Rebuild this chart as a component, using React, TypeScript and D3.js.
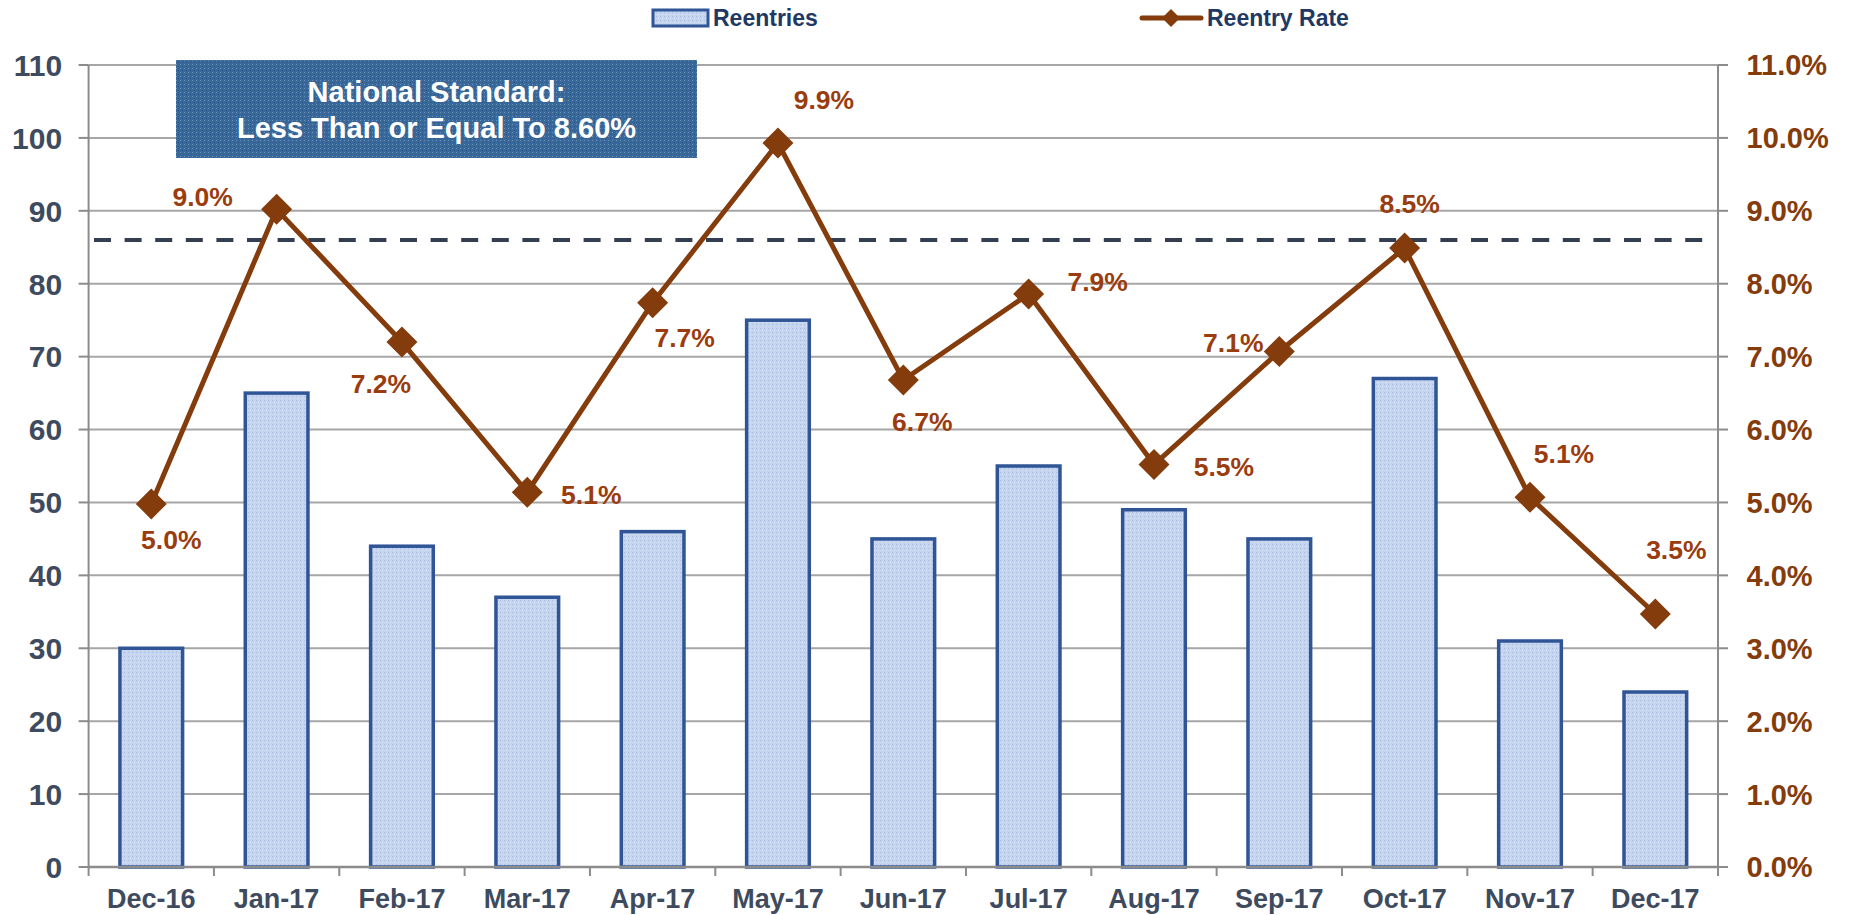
import React from "react";
import * as d3 from "d3";

const categories = ["Dec-16","Jan-17","Feb-17","Mar-17","Apr-17","May-17","Jun-17","Jul-17","Aug-17","Sep-17","Oct-17","Nov-17","Dec-17"];
const reentries = [30, 65, 44, 37, 46, 75, 45, 55, 49, 45, 67, 31, 24];
const reentryRate = [4.98, 9.02, 7.2, 5.14, 7.74, 9.93, 6.68, 7.86, 5.52, 7.07, 8.49, 5.07, 3.47];
const leftTicks = [0,10,20,30,40,50,60,70,80,90,100,110];
const rightTicks = [0,1,2,3,4,5,6,7,8,9,10,11];
const nationalStandard = 8.6;
const standardText = ["National Standard:", "Less Than or Equal To 8.60%"];
const seriesNames = ["Reentries", "Reentry Rate"];
// label offsets (layout only)
const labelOffsets: [number, number][] = [[20,36],[-74,-13],[-21,41],[64,2],[32,35],[46,-44],[19,41],[69,-12],[70,2],[-46,-9],[5,-45],[34,-44],[21,-65]];

const W = 1853, H = 915;
const L = 88.6, R = 1718, T = 65, B = 867;
const BROWN = "#843c0c";
const LABEL = "#3e4b5e";
const FONT = "Arial, 'Liberation Sans', sans-serif";

export default function App() {
  const x = d3.scaleBand<string>().domain(categories).range([L, R]).paddingInner(0.5).paddingOuter(0.25);
  const yL = d3.scaleLinear().domain([0, 110]).range([B, T]);
  const yR = d3.scaleLinear().domain([0, 11]).range([B, T]);
  const cx = (c: string) => (x(c) as number) + x.bandwidth() / 2;
  const line = d3.line<number>().x((_, i) => cx(categories[i])).y(d => yR(d));
  const step = x.step();
  const diamond = (px: number, py: number, r: number) => `M${px},${py - r}L${px + r},${py}L${px},${py + r}L${px - r},${py}Z`;

  return (
    <svg width={W} height={H} style={{ position: "absolute", left: 0, top: 0, background: "#fff" }} fontFamily={FONT}>
      <defs>
        <pattern id="barPat" width="4" height="4" patternUnits="userSpaceOnUse">
          <rect width="4" height="4" fill="#c6d5ef" />
          <rect x="0" y="0" width="1" height="1" fill="#a9bde2" />
          <rect x="2" y="2" width="1" height="1" fill="#dbe5f5" />
        </pattern>
        <pattern id="boxPat" width="4" height="4" patternUnits="userSpaceOnUse">
          <rect width="4" height="4" fill="#39689a" />
          <rect x="0" y="0" width="1" height="1" fill="#6b90b8" />
          <rect x="2" y="2" width="1" height="1" fill="#2b5685" />
        </pattern>
      </defs>

      {/* gridlines */}
      {leftTicks.filter(t => t > 0).map(t => (
        <line key={t} x1={L} x2={R} y1={yL(t)} y2={yL(t)} stroke="#a6a6a6" strokeWidth={2} />
      ))}
      {/* left ticks */}
      {leftTicks.map(t => (
        <g key={"lt" + t}>
          <line x1={L - 10} x2={L} y1={yL(t)} y2={yL(t)} stroke="#8c8c8c" strokeWidth={2} />
          <text x={L - 26.5} y={yL(t)} dy="0.36em" textAnchor="end" fontSize={30} fontWeight="bold" fill={LABEL}>{t}</text>
        </g>
      ))}
      {/* right ticks */}
      {rightTicks.map(t => (
        <g key={"rt" + t}>
          <line x1={R} x2={R + 10} y1={yR(t)} y2={yR(t)} stroke="#8c8c8c" strokeWidth={2} />
          <text x={R + 28.5} y={yR(t)} dy="0.36em" textAnchor="start" fontSize={29} fontWeight="bold" fill={BROWN}>{t.toFixed(1) + "%"}</text>
        </g>
      ))}
      {/* axes */}
      <line x1={L} x2={L} y1={T} y2={B} stroke="#8c8c8c" strokeWidth={2} />
      <line x1={R} x2={R} y1={T} y2={B} stroke="#8c8c8c" strokeWidth={2} />

      {/* bars */}
      {categories.map((c, i) => (
        <rect key={c} x={x(c)} y={yL(reentries[i])} width={x.bandwidth()} height={yL(0) - yL(reentries[i])}
          fill="url(#barPat)" stroke="#2f5597" strokeWidth={3.5} />
      ))}

      <line x1={L} x2={R} y1={B} y2={B} stroke="#8c8c8c" strokeWidth={2.5} />
      {d3.range(categories.length + 1).map(i => (
        <line key={"xt" + i} x1={L + i * step} x2={L + i * step} y1={B} y2={B + 9} stroke="#8c8c8c" strokeWidth={2} />
      ))}
      {categories.map(c => (
        <text key={"xl" + c} x={cx(c)} y={908} textAnchor="middle" fontSize={27} fontWeight="bold" fill={LABEL}>{c}</text>
      ))}

      {/* national standard dashed line */}
      <line x1={94} x2={R - 5} y1={yR(nationalStandard)} y2={yR(nationalStandard)} stroke="#333f50" strokeWidth={4} strokeDasharray="17 13.6" />

      {/* rate line */}
      <path d={line(reentryRate) || ""} fill="none" stroke={BROWN} strokeWidth={5} strokeLinejoin="round" />
      {reentryRate.map((v, i) => (
        <path key={"m" + i} d={diamond(cx(categories[i]), yR(v), 15.5)} fill={BROWN} />
      ))}
      {reentryRate.map((v, i) => (
        <text key={"dl" + i} x={cx(categories[i]) + labelOffsets[i][0]} y={yR(v) + labelOffsets[i][1]} dy="0.36em"
          textAnchor="middle" fontSize={26.5} fontWeight="bold" fill="#9a3c0e">{v.toFixed(1) + "%"}</text>
      ))}

      {/* national standard box */}
      <rect x={176} y={60} width={521} height={98} fill="url(#boxPat)" />
      <text x={436.5} y={101.5} textAnchor="middle" fontSize={29} fontWeight="bold" fill="#fff">{standardText[0]}</text>
      <text x={436.5} y={137.5} textAnchor="middle" fontSize={29} fontWeight="bold" fill="#fff">{standardText[1]}</text>

      {/* legend */}
      <rect x={653} y={10} width={55} height={16} fill="url(#barPat)" stroke="#2f5597" strokeWidth={3} />
      <text x={713} y={18} dy="0.36em" fontSize={23} fontWeight="bold" fill="#1f3864">{seriesNames[0]}</text>
      <line x1={1142} x2={1201} y1={18} y2={18} stroke={BROWN} strokeWidth={5} strokeLinecap="round" />
      <path d={diamond(1171, 18, 9)} fill={BROWN} />
      <text x={1207} y={18} dy="0.36em" fontSize={23} fontWeight="bold" fill="#1f3864">{seriesNames[1]}</text>
    </svg>
  );
}
